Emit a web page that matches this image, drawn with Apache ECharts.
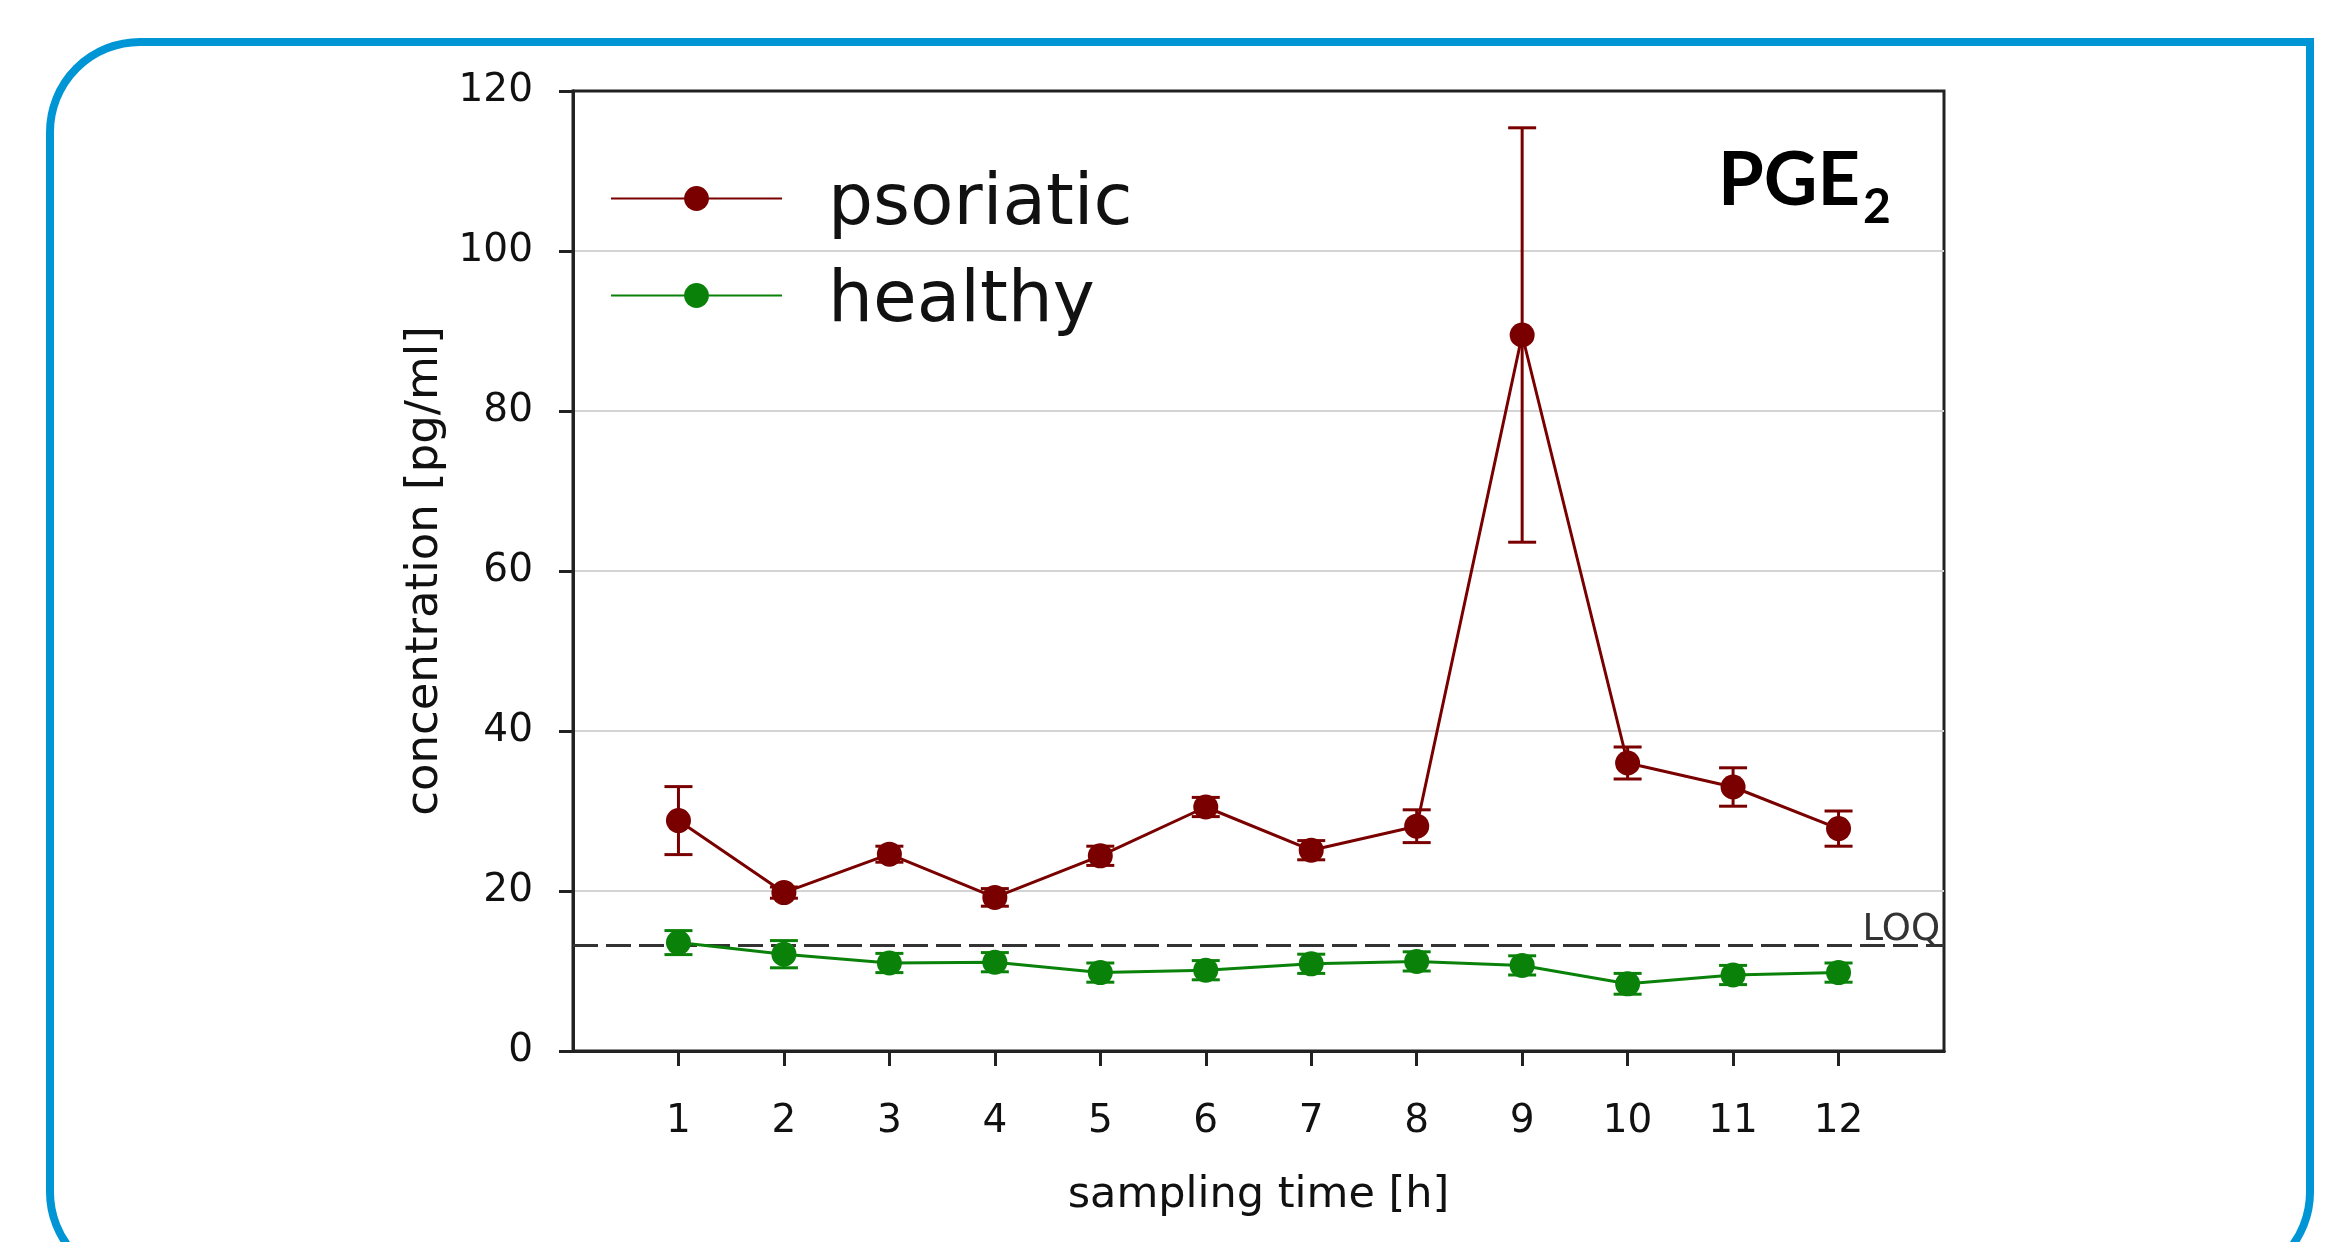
<!DOCTYPE html>
<html>
<head>
<meta charset="utf-8">
<script src="https://cdn.jsdelivr.net/npm/echarts@6/dist/echarts.min.js"></script>
<style>html,body{margin:0;padding:0;background:#fff}#c{width:2345px;height:1242px}</style>
</head>
<body>
<div id="c"></div>
<script>
const samplingTimes = [1, 2, 3, 4, 5, 6, 7, 8, 9, 10, 11, 12];
const psoriaticMean = [28.8, 19.8, 24.6, 19.2, 24.4, 30.5, 25.1, 28.1, 89.5, 36.0, 33.0, 27.8];
const psoriaticErr  = [4.25, 0.7, 1.0, 1.1, 1.2, 1.2, 1.2, 2.05, 25.9, 2.0, 2.4, 2.2];
const healthyMean   = [13.55, 12.1, 11.0, 11.1, 9.8, 10.1, 10.9, 11.2, 10.7, 8.4, 9.5, 9.8];
const healthyErr    = [1.5, 1.7, 1.2, 1.2, 1.2, 1.2, 1.2, 1.2, 1.2, 1.3, 1.2, 1.2];
const loqValue = 13.2;
const seriesNames = ['psoriatic', 'healthy'];
const panelLabel = 'PGE';
const panelSub = '2';
const xTitle = 'sampling time [h]';
const yTitle = 'concentration [pg/ml]';

const RED = '#7a0000';
const GREEN = '#0a820a';
const FONT = 'DejaVu Sans';

function errorBars(color) {
  return function (params, api) {
    const x = api.value(0), m = api.value(1), e = api.value(2);
    const hi = api.coord([x, m + e]);
    const lo = api.coord([x, m - e]);
    const hw = 14;
    const style = { stroke: color, lineWidth: 3 };
    return {
      type: 'group',
      children: [
        { type: 'line', shape: { x1: hi[0], y1: hi[1], x2: lo[0], y2: lo[1] }, style: style },
        { type: 'line', shape: { x1: hi[0] - hw, y1: hi[1], x2: hi[0] + hw, y2: hi[1] }, style: style },
        { type: 'line', shape: { x1: lo[0] - hw, y1: lo[1], x2: lo[0] + hw, y2: lo[1] }, style: style }
      ]
    };
  };
}

const frameAxisLine = { show: true, lineStyle: { color: '#222', width: 3 } };

const chart = echarts.init(document.getElementById('c'), null, { renderer: 'canvas' });
chart.setOption({
  animation: false,
  backgroundColor: '#ffffff',
  textStyle: { fontFamily: FONT, color: '#111' },
  grid: {
    left: 573, right: 401, top: 91, bottom: 191,
    show: true, borderColor: '#222', borderWidth: 3, backgroundColor: 'transparent'
  },
  graphic: [
    {
      type: 'rect', z: -10, silent: true,
      shape: { x: 50, y: 42, width: 2260, height: 1240, r: [90, 0, 90, 90] },
      style: { fill: 'none', stroke: '#0096D6', lineWidth: 8 }
    },
    {
      type: 'text', silent: true, x: 1860, y: 181,
      style: { text: panelLabel, fontFamily: 'Lato', fontWeight: 'bold', fontSize: 74, fill: '#000', align: 'right', verticalAlign: 'middle' }
    },
    {
      type: 'text', silent: true, x: 1863, y: 208,
      style: { text: panelSub, fontFamily: 'Lato', fontWeight: 'bold', fontSize: 48, fill: '#000', align: 'left', verticalAlign: 'middle' }
    }
  ],
  legend: {
    data: seriesNames,
    orient: 'vertical',
    left: 610, top: 156,
    padding: 0,
    itemGap: 12,
    itemWidth: 171,
    itemHeight: 31,
    selectedMode: false,
    formatter: function (name) { return '{t|' + name + '}'; },
    textStyle: {
      fontFamily: FONT, fontSize: 71, lineHeight: 81, color: '#111',
      rich: { t: { fontFamily: FONT, fontSize: 71, lineHeight: 81, color: '#111', padding: [14, 0, 0, 41] } }
    }
  },
  xAxis: [
    {
      type: 'value', min: 0, max: 13, interval: 1,
      name: xTitle, nameLocation: 'middle', nameGap: 123,
      nameTextStyle: { fontFamily: FONT, fontSize: 43, color: '#111' },
      axisLine: frameAxisLine,
      axisTick: { show: true, length: 15, customValues: samplingTimes, lineStyle: { color: '#222', width: 3 } },
      axisLabel: {
        customValues: samplingTimes, margin: 51, fontFamily: FONT, fontSize: 39, color: '#111',
        formatter: function (v) { return (v >= 1 && v <= 12) ? String(v) : ''; }
      },
      splitLine: { show: false }
    },
    {
      type: 'value', min: 0, max: 13, interval: 1, position: 'top',
      axisLine: frameAxisLine, axisTick: { show: false }, axisLabel: { show: false }, splitLine: { show: false }
    }
  ],
  yAxis: [
    {
      type: 'value', min: 0, max: 120, interval: 20,
      name: yTitle, nameLocation: 'middle', nameGap: 122,
      nameTextStyle: { fontFamily: FONT, fontSize: 45, color: '#111' },
      axisLine: frameAxisLine,
      axisTick: { show: true, length: 14, lineStyle: { color: '#222', width: 3 } },
      axisLabel: { margin: 40, fontFamily: FONT, fontSize: 39, color: '#111' },
      splitLine: { show: true, showMinLine: false, showMaxLine: false, lineStyle: { color: '#d4d4d4', width: 2 } }
    },
    {
      type: 'value', min: 0, max: 120, interval: 20, position: 'right',
      axisLine: frameAxisLine, axisTick: { show: false }, axisLabel: { show: false }, splitLine: { show: false }
    }
  ],
  series: [
    {
      name: 'psoriatic SD', type: 'custom', z: 2,
      renderItem: errorBars(RED),
      encode: { x: 0, y: 1 },
      data: samplingTimes.map((t, i) => [t, psoriaticMean[i], psoriaticErr[i]])
    },
    {
      name: 'healthy SD', type: 'custom', z: 2,
      renderItem: errorBars(GREEN),
      encode: { x: 0, y: 1 },
      data: samplingTimes.map((t, i) => [t, healthyMean[i], healthyErr[i]])
    },
    {
      name: seriesNames[0], type: 'line', z: 3,
      symbol: 'circle', symbolSize: 25,
      itemStyle: { color: RED },
      lineStyle: { color: RED, width: 3 },
      data: samplingTimes.map((t, i) => [t, psoriaticMean[i]])
    },
    {
      name: seriesNames[1], type: 'line', z: 3,
      symbol: 'circle', symbolSize: 25,
      itemStyle: { color: GREEN },
      lineStyle: { color: GREEN, width: 3 },
      data: samplingTimes.map((t, i) => [t, healthyMean[i]]),
      markLine: {
        silent: true, symbol: 'none', z: 1,
        lineStyle: { color: '#333', type: [25, 8], width: 3 },
        label: { show: true, position: 'insideEndTop', formatter: 'LOQ', fontFamily: FONT, fontSize: 37, color: '#333', distance: [4, -3] },
        data: [{ yAxis: loqValue }]
      }
    }
  ]
});
</script>
</body>
</html>
